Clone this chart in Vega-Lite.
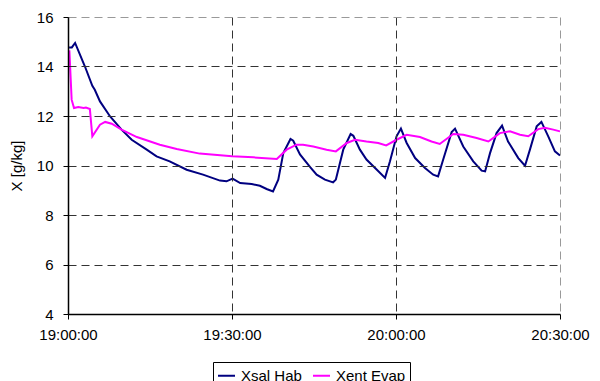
{
  "$schema": "https://vega.github.io/schema/vega-lite/v6.json",
  "width": 492,
  "height": 297,
  "autosize": {"type": "none"},
  "padding": {"left": 68, "top": 17, "right": 40, "bottom": 67},
  "background": "white",
  "config": {
    "view": {"stroke": null},
    "font": "Liberation Sans",
    "axis": {
      "labelFont": "Liberation Sans",
      "labelFontSize": 15,
      "labelColor": "black",
      "titleFont": "Liberation Sans",
      "titleFontSize": 15,
      "titleFontWeight": "normal",
      "titleColor": "black",
      "domainColor": "black",
      "domainWidth": 1.5,
      "tickColor": "black",
      "tickSize": 5,
      "grid": true,
      "gridDash": [8, 5],
      "gridWidth": 1,
      "gridColor": {"condition": {"test": "datum.index == 1", "value": "#999999"}, "value": "#333333"}
    },
    "legend": {
      "labelFont": "Liberation Sans",
      "labelFontSize": 15,
      "labelColor": "black"
    }
  },
  "data": {
    "values": [
      {"time": "2000-01-01T19:00:12", "series": "Xsal Hab", "value": 14.77},
      {"time": "2000-01-01T19:00:42", "series": "Xsal Hab", "value": 14.77},
      {"time": "2000-01-01T19:01:18", "series": "Xsal Hab", "value": 14.95},
      {"time": "2000-01-01T19:03:06", "series": "Xsal Hab", "value": 14.0},
      {"time": "2000-01-01T19:04:27", "series": "Xsal Hab", "value": 13.22},
      {"time": "2000-01-01T19:04:54", "series": "Xsal Hab", "value": 13.06},
      {"time": "2000-01-01T19:05:51", "series": "Xsal Hab", "value": 12.59},
      {"time": "2000-01-01T19:07:42", "series": "Xsal Hab", "value": 11.98},
      {"time": "2000-01-01T19:09:48", "series": "Xsal Hab", "value": 11.45},
      {"time": "2000-01-01T19:11:39", "series": "Xsal Hab", "value": 11.04},
      {"time": "2000-01-01T19:14:24", "series": "Xsal Hab", "value": 10.64},
      {"time": "2000-01-01T19:16:12", "series": "Xsal Hab", "value": 10.37},
      {"time": "2000-01-01T19:18:36", "series": "Xsal Hab", "value": 10.17},
      {"time": "2000-01-01T19:21:42", "series": "Xsal Hab", "value": 9.83},
      {"time": "2000-01-01T19:24:42", "series": "Xsal Hab", "value": 9.63},
      {"time": "2000-01-01T19:27:48", "series": "Xsal Hab", "value": 9.39},
      {"time": "2000-01-01T19:29:00", "series": "Xsal Hab", "value": 9.36},
      {"time": "2000-01-01T19:30:06", "series": "Xsal Hab", "value": 9.47},
      {"time": "2000-01-01T19:31:30", "series": "Xsal Hab", "value": 9.29},
      {"time": "2000-01-01T19:33:36", "series": "Xsal Hab", "value": 9.25},
      {"time": "2000-01-01T19:35:06", "series": "Xsal Hab", "value": 9.18},
      {"time": "2000-01-01T19:36:20", "series": "Xsal Hab", "value": 9.05},
      {"time": "2000-01-01T19:37:30", "series": "Xsal Hab", "value": 8.95},
      {"time": "2000-01-01T19:38:28", "series": "Xsal Hab", "value": 9.43},
      {"time": "2000-01-01T19:39:23", "series": "Xsal Hab", "value": 10.5},
      {"time": "2000-01-01T19:40:42", "series": "Xsal Hab", "value": 11.07},
      {"time": "2000-01-01T19:41:12", "series": "Xsal Hab", "value": 11.0},
      {"time": "2000-01-01T19:42:26", "series": "Xsal Hab", "value": 10.45},
      {"time": "2000-01-01T19:44:18", "series": "Xsal Hab", "value": 9.93},
      {"time": "2000-01-01T19:45:29", "series": "Xsal Hab", "value": 9.63},
      {"time": "2000-01-01T19:47:00", "series": "Xsal Hab", "value": 9.43},
      {"time": "2000-01-01T19:48:30", "series": "Xsal Hab", "value": 9.32},
      {"time": "2000-01-01T19:49:00", "series": "Xsal Hab", "value": 9.43},
      {"time": "2000-01-01T19:50:21", "series": "Xsal Hab", "value": 10.64},
      {"time": "2000-01-01T19:51:42", "series": "Xsal Hab", "value": 11.27},
      {"time": "2000-01-01T19:52:12", "series": "Xsal Hab", "value": 11.2},
      {"time": "2000-01-01T19:53:24", "series": "Xsal Hab", "value": 10.64},
      {"time": "2000-01-01T19:54:36", "series": "Xsal Hab", "value": 10.24},
      {"time": "2000-01-01T19:56:30", "series": "Xsal Hab", "value": 9.83},
      {"time": "2000-01-01T19:58:00", "series": "Xsal Hab", "value": 9.5},
      {"time": "2000-01-01T19:58:54", "series": "Xsal Hab", "value": 10.17},
      {"time": "2000-01-01T20:00:06", "series": "Xsal Hab", "value": 11.18},
      {"time": "2000-01-01T20:00:54", "series": "Xsal Hab", "value": 11.49},
      {"time": "2000-01-01T20:01:57", "series": "Xsal Hab", "value": 10.91},
      {"time": "2000-01-01T20:03:30", "series": "Xsal Hab", "value": 10.3},
      {"time": "2000-01-01T20:05:18", "series": "Xsal Hab", "value": 9.9},
      {"time": "2000-01-01T20:06:48", "series": "Xsal Hab", "value": 9.63},
      {"time": "2000-01-01T20:07:42", "series": "Xsal Hab", "value": 9.56},
      {"time": "2000-01-01T20:08:38", "series": "Xsal Hab", "value": 10.24},
      {"time": "2000-01-01T20:10:11", "series": "Xsal Hab", "value": 11.35},
      {"time": "2000-01-01T20:10:48", "series": "Xsal Hab", "value": 11.49},
      {"time": "2000-01-01T20:12:18", "series": "Xsal Hab", "value": 10.77},
      {"time": "2000-01-01T20:14:08", "series": "Xsal Hab", "value": 10.17},
      {"time": "2000-01-01T20:15:40", "series": "Xsal Hab", "value": 9.79},
      {"time": "2000-01-01T20:16:18", "series": "Xsal Hab", "value": 9.76},
      {"time": "2000-01-01T20:17:12", "series": "Xsal Hab", "value": 10.5},
      {"time": "2000-01-01T20:18:24", "series": "Xsal Hab", "value": 11.31},
      {"time": "2000-01-01T20:19:24", "series": "Xsal Hab", "value": 11.61},
      {"time": "2000-01-01T20:20:30", "series": "Xsal Hab", "value": 10.97},
      {"time": "2000-01-01T20:22:22", "series": "Xsal Hab", "value": 10.3},
      {"time": "2000-01-01T20:23:36", "series": "Xsal Hab", "value": 9.99},
      {"time": "2000-01-01T20:24:30", "series": "Xsal Hab", "value": 10.64},
      {"time": "2000-01-01T20:25:44", "series": "Xsal Hab", "value": 11.58},
      {"time": "2000-01-01T20:26:36", "series": "Xsal Hab", "value": 11.76},
      {"time": "2000-01-01T20:27:51", "series": "Xsal Hab", "value": 11.18},
      {"time": "2000-01-01T20:29:04", "series": "Xsal Hab", "value": 10.57},
      {"time": "2000-01-01T20:30:00", "series": "Xsal Hab", "value": 10.4},
      {"time": "2000-01-01T19:00:15", "series": "Xent Evap", "value": 14.65},
      {"time": "2000-01-01T19:00:40", "series": "Xent Evap", "value": 12.66},
      {"time": "2000-01-01T19:01:06", "series": "Xent Evap", "value": 12.32},
      {"time": "2000-01-01T19:01:53", "series": "Xent Evap", "value": 12.36},
      {"time": "2000-01-01T19:02:52", "series": "Xent Evap", "value": 12.32},
      {"time": "2000-01-01T19:03:17", "series": "Xent Evap", "value": 12.34},
      {"time": "2000-01-01T19:04:00", "series": "Xent Evap", "value": 12.28},
      {"time": "2000-01-01T19:04:27", "series": "Xent Evap", "value": 11.18},
      {"time": "2000-01-01T19:05:51", "series": "Xent Evap", "value": 11.65},
      {"time": "2000-01-01T19:06:48", "series": "Xent Evap", "value": 11.76},
      {"time": "2000-01-01T19:08:00", "series": "Xent Evap", "value": 11.69},
      {"time": "2000-01-01T19:09:48", "series": "Xent Evap", "value": 11.45},
      {"time": "2000-01-01T19:12:36", "series": "Xent Evap", "value": 11.15},
      {"time": "2000-01-01T19:16:48", "series": "Xent Evap", "value": 10.84},
      {"time": "2000-01-01T19:19:53", "series": "Xent Evap", "value": 10.67},
      {"time": "2000-01-01T19:24:06", "series": "Xent Evap", "value": 10.48},
      {"time": "2000-01-01T19:30:00", "series": "Xent Evap", "value": 10.37},
      {"time": "2000-01-01T19:33:54", "series": "Xent Evap", "value": 10.33},
      {"time": "2000-01-01T19:38:12", "series": "Xent Evap", "value": 10.26},
      {"time": "2000-01-01T19:40:00", "series": "Xent Evap", "value": 10.64},
      {"time": "2000-01-01T19:41:48", "series": "Xent Evap", "value": 10.84},
      {"time": "2000-01-01T19:43:00", "series": "Xent Evap", "value": 10.84},
      {"time": "2000-01-01T19:44:52", "series": "Xent Evap", "value": 10.77},
      {"time": "2000-01-01T19:47:18", "series": "Xent Evap", "value": 10.64},
      {"time": "2000-01-01T19:49:00", "series": "Xent Evap", "value": 10.57},
      {"time": "2000-01-01T19:51:00", "series": "Xent Evap", "value": 10.91},
      {"time": "2000-01-01T19:52:30", "series": "Xent Evap", "value": 11.04},
      {"time": "2000-01-01T19:54:36", "series": "Xent Evap", "value": 10.97},
      {"time": "2000-01-01T19:56:45", "series": "Xent Evap", "value": 10.91},
      {"time": "2000-01-01T19:58:12", "series": "Xent Evap", "value": 10.81},
      {"time": "2000-01-01T20:00:06", "series": "Xent Evap", "value": 11.04},
      {"time": "2000-01-01T20:01:57", "series": "Xent Evap", "value": 11.24},
      {"time": "2000-01-01T20:04:23", "series": "Xent Evap", "value": 11.15},
      {"time": "2000-01-01T20:06:30", "series": "Xent Evap", "value": 10.97},
      {"time": "2000-01-01T20:08:00", "series": "Xent Evap", "value": 10.87},
      {"time": "2000-01-01T20:10:28", "series": "Xent Evap", "value": 11.27},
      {"time": "2000-01-01T20:12:18", "series": "Xent Evap", "value": 11.24},
      {"time": "2000-01-01T20:14:45", "series": "Xent Evap", "value": 11.11},
      {"time": "2000-01-01T20:16:54", "series": "Xent Evap", "value": 10.97},
      {"time": "2000-01-01T20:19:00", "series": "Xent Evap", "value": 11.31},
      {"time": "2000-01-01T20:20:51", "series": "Xent Evap", "value": 11.38},
      {"time": "2000-01-01T20:22:41", "series": "Xent Evap", "value": 11.24},
      {"time": "2000-01-01T20:24:12", "series": "Xent Evap", "value": 11.18},
      {"time": "2000-01-01T20:26:01", "series": "Xent Evap", "value": 11.47},
      {"time": "2000-01-01T20:27:15", "series": "Xent Evap", "value": 11.52},
      {"time": "2000-01-01T20:28:46", "series": "Xent Evap", "value": 11.45},
      {"time": "2000-01-01T20:30:00", "series": "Xent Evap", "value": 11.38}
    ]
  },
  "mark": {"type": "line", "strokeWidth": 2, "interpolate": "linear"},
  "encoding": {
    "x": {
      "field": "time",
      "type": "temporal",
      "scale": {
        "domain": [
          {"year": 2000, "month": 1, "date": 1, "hours": 19, "minutes": 0},
          {"year": 2000, "month": 1, "date": 1, "hours": 20, "minutes": 30}
        ]
      },
      "axis": {
        "title": null,
        "format": "%H:%M:%S",
        "values": [
          {"year": 2000, "month": 1, "date": 1, "hours": 19, "minutes": 0},
          {"year": 2000, "month": 1, "date": 1, "hours": 19, "minutes": 30},
          {"year": 2000, "month": 1, "date": 1, "hours": 20, "minutes": 0},
          {"year": 2000, "month": 1, "date": 1, "hours": 20, "minutes": 30}
        ],
        "labelPadding": 8,
        "labelFlush": false,
        "labelOverlap": false,
        "zindex": 1
      }
    },
    "y": {
      "field": "value",
      "type": "quantitative",
      "scale": {"domain": [4, 16], "nice": false, "zero": false},
      "axis": {
        "title": "X [g/kg]",
        "values": [4, 6, 8, 10, 12, 14, 16],
        "labelPadding": 10,
        "titlePadding": 12,
        "zindex": 1
      }
    },
    "color": {
      "field": "series",
      "type": "nominal",
      "sort": ["Xsal Hab", "Xent Evap"],
      "scale": {"domain": ["Xsal Hab", "Xent Evap"], "range": ["#000080", "#FF00FF"]},
      "legend": {
        "title": null,
        "orient": "none",
        "direction": "horizontal",
        "legendX": 145,
        "legendY": 345,
        "symbolType": "stroke",
        "symbolSize": 289,
        "symbolStrokeWidth": 2,
        "labelOffset": 5,
        "columnPadding": 7,
        "padding": 4,
        "strokeColor": "black",
        "fillColor": "white"
      }
    }
  }
}
